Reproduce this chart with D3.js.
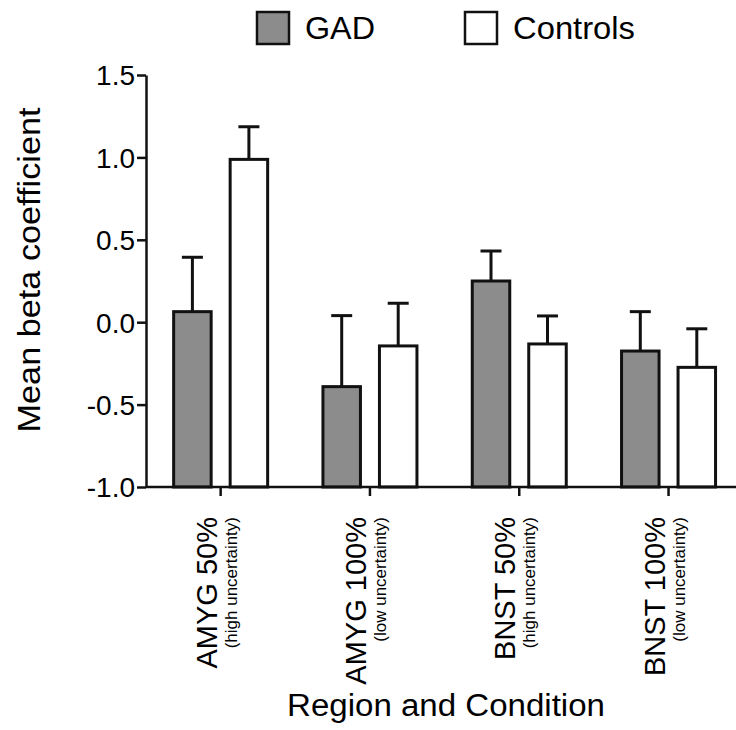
<!DOCTYPE html>
<html>
<head>
<meta charset="utf-8">
<script src="https://d3js.org/d3.v7.min.js"></script>
<style>
  body { margin: 0; background: #fff; }
  text { font-family: "Liberation Sans", Arial, sans-serif; fill: #000; }
</style>
</head>
<body>
<div id="chart"></div>
<script>
// data
const regions = ['AMYG 50%', 'AMYG 100%', 'BNST 50%', 'BNST 100%'];
const conditions = ['(high uncertainty)', '(low uncertainty)', '(high uncertainty)', '(low uncertainty)'];
const groups = ['GAD', 'Controls'];
const gadMeans = [0.064, -0.391, 0.25, -0.175];
const gadErr = [0.33, 0.431, 0.182, 0.239];
const controlMeans = [0.988, -0.144, -0.132, -0.274];
const controlErr = [0.198, 0.259, 0.17, 0.234];
const yTicks = [-1.0, -0.5, 0.0, 0.5, 1.0, 1.5];

const fills = { GAD: '#8c8c8c', Controls: '#ffffff' };

const width = 736, height = 730;
const margin = { top: 75, left: 146, bottom: 243 };

const svg = d3.select('#chart').append('svg')
    .attr('width', width)
    .attr('height', height);

// scales
const x = d3.scaleBand()
    .domain(regions)
    .range([margin.left, margin.left + 4 * 149.3]);

const y = d3.scaleLinear()
    .domain([-1.0, 1.5])
    .range([height - margin.bottom, margin.top]);

const barW = 37.5, barGap = 19;

// build rows for the bars
const rows = [];
regions.forEach((r, i) => {
    rows.push({ region: r, group: 'GAD', mean: gadMeans[i], err: gadErr[i], off: -barGap / 2 - barW });
    rows.push({ region: r, group: 'Controls', mean: controlMeans[i], err: controlErr[i], off: barGap / 2 });
});

const cx = d => x(d.region) + x.bandwidth() / 2 + d.off + barW / 2;

// error bars (upper only)
svg.append('g').selectAll('line.err')
    .data(rows)
    .join('line')
    .attr('x1', cx).attr('x2', cx)
    .attr('y1', d => y(d.mean))
    .attr('y2', d => y(d.mean + d.err))
    .attr('stroke', '#111').attr('stroke-width', 3);

svg.append('g').selectAll('line.cap')
    .data(rows)
    .join('line')
    .attr('x1', d => cx(d) - 10.5).attr('x2', d => cx(d) + 10.5)
    .attr('y1', d => y(d.mean + d.err))
    .attr('y2', d => y(d.mean + d.err))
    .attr('stroke', '#111').attr('stroke-width', 3);

// bars from the baseline (-1.0)
svg.append('g').selectAll('rect')
    .data(rows)
    .join('rect')
    .attr('x', d => x(d.region) + x.bandwidth() / 2 + d.off)
    .attr('width', barW)
    .attr('y', d => y(d.mean))
    .attr('height', d => y(-1.0) - y(d.mean))
    .attr('fill', d => fills[d.group])
    .attr('stroke', '#111')
    .attr('stroke-width', 3);

// y axis
const yAxis = svg.append('g')
    .attr('transform', `translate(${margin.left},0)`)
    .call(d3.axisLeft(y).tickValues(yTicks).tickFormat(d3.format('.1f')).tickSize(9).tickSizeOuter(0));
yAxis.select('.domain').attr('stroke', '#111').attr('stroke-width', 2.5);
yAxis.selectAll('.tick line').attr('stroke', '#111').attr('stroke-width', 2.5);
yAxis.selectAll('.tick text')
    .style('font-size', '28px')
    .attr('x', -11)
    .attr('dy', '0.35em')
    .text(d => d3.format('.1f')(d).replace('−', '-'));

// x axis
const xAxis = svg.append('g')
    .attr('transform', `translate(0,${y(-1.0)})`)
    .call(d3.axisBottom(x).tickSize(9).tickSizeOuter(0).tickFormat(''));
xAxis.select('.domain').attr('stroke', '#111').attr('stroke-width', 2.5)
    .attr('d', `M${margin.left},0H${width}`);
xAxis.selectAll('.tick line').attr('stroke', '#111').attr('stroke-width', 2.5);

// rotated category labels
regions.forEach((r, i) => {
    const c = x(r) + x.bandwidth() / 2;
    svg.append('text')
        .attr('transform', `translate(${c - 4},517) rotate(-90)`)
        .attr('text-anchor', 'end')
        .style('font-size', '29px')
        .text(r);
    svg.append('text')
        .attr('transform', `translate(${c + 16},517) rotate(-90)`)
        .attr('text-anchor', 'end')
        .style('font-size', '17px')
        .text(conditions[i]);
});

// axis titles
svg.append('text')
    .attr('transform', `translate(40,270) rotate(-90)`)
    .attr('text-anchor', 'middle')
    .attr('textLength', 325)
    .attr('lengthAdjust', 'spacingAndGlyphs')
    .style('font-size', '31px')
    .text('Mean beta coefficient');

svg.append('text')
    .attr('x', 446).attr('y', 716)
    .attr('text-anchor', 'middle')
    .attr('textLength', 318)
    .attr('lengthAdjust', 'spacingAndGlyphs')
    .style('font-size', '31px')
    .text('Region and Condition');

// legend
const legend = svg.append('g');
const legX = [257, 465];
const legLen = [70, 122];
groups.forEach((g, i) => {
    legend.append('rect')
        .attr('x', legX[i]).attr('y', 12)
        .attr('width', 32).attr('height', 32)
        .attr('fill', fills[g])
        .attr('stroke', '#111').attr('stroke-width', 2.5);
    legend.append('text')
        .attr('x', legX[i] + 48).attr('y', 39)
        .attr('textLength', legLen[i])
        .attr('lengthAdjust', 'spacingAndGlyphs')
        .style('font-size', '31px')
        .text(g);
});
</script>
</body>
</html>
